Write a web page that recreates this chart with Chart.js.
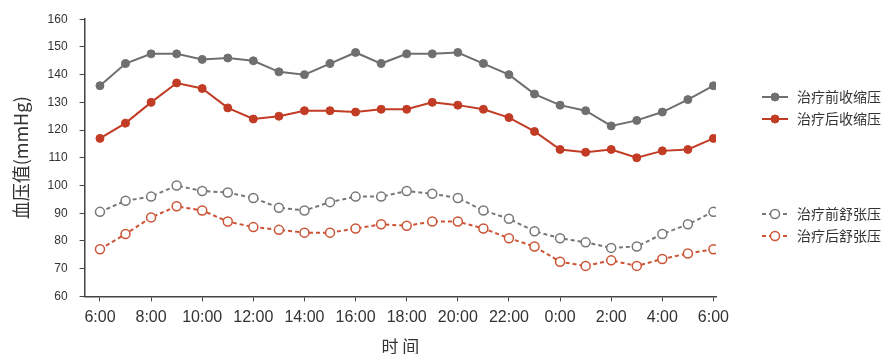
<!DOCTYPE html>
<html>
<head>
<meta charset="utf-8">
<script src="https://cdn.jsdelivr.net/npm/chart.js@4"></script>
<style>
  body { margin: 0; background: #fff; }
  #wrap { width: 886px; height: 354px; }
</style>
</head>
<body>
<div id="wrap"><canvas id="myChart" width="886" height="354"></canvas></div>
<script>
// hours, 6:00 to 6:00 next day
var times = ['6:00','7:00','8:00','9:00','10:00','11:00','12:00','13:00','14:00','15:00','16:00','17:00','18:00',
  '19:00','20:00','21:00','22:00','23:00','0:00','1:00','2:00','3:00','4:00','5:00','6:00'];
var sysBefore = [136,144,147.5,147.5,145.5,146,145,141,140,144,148,144,147.5,147.5,148,144,140,133,129,127,121.5,123.5,126.5,131,136];
var sysAfter  = [117,122.5,130,137,135,128,124,125,127,127,126.5,127.5,127.5,130,129,127.5,124.5,119.5,113,112,113,110,112.5,113,117];
var diaBefore = [90.5,94.5,96,100,98,97.5,95.5,92,91,94,96,96,98,97,95.5,91,88,83.5,81,79.5,77.5,78,82.5,86,90.5];
var diaAfter  = [77,82.5,88.5,92.5,91,87,85,84,83,83,84.5,86,85.5,87,87,84.5,81,78,72.5,71,73,71,73.5,75.5,77];
var yTicks = [60,70,80,90,100,110,120,130,140,150,160];

function pts(vals) {
  return vals.map(function (v, i) { return { x: i, y: v }; });
}

var legendPos = [97, 119, 214, 236];

var sideLegend = {
  id: 'sideLegend',
  afterDraw: function (chart) {
    var ctx = chart.ctx;
    chart.data.datasets.forEach(function (ds, i) {
      var y = legendPos[i];
      ctx.save();
      ctx.strokeStyle = ds.borderColor;
      ctx.lineWidth = 2;
      ctx.setLineDash(ds.borderDash || []);
      ctx.beginPath();
      ctx.moveTo(762, y);
      ctx.lineTo(788, y);
      ctx.stroke();
      ctx.setLineDash([]);
      ctx.beginPath();
      ctx.arc(775, y, ds.pointRadius, 0, Math.PI * 2);
      ctx.fillStyle = ds.pointBackgroundColor;
      ctx.fill();
      ctx.lineWidth = ds.pointBorderWidth;
      ctx.stroke();
      ctx.fillStyle = '#333';
      ctx.font = '14px "Noto Sans CJK SC"';
      ctx.textBaseline = 'middle';
      ctx.fillText(ds.label, 797, y);
      ctx.restore();
    });
  }
};

var ctx = document.getElementById('myChart');
var myChart = new Chart(ctx, {
  type: 'line',
  data: {
    datasets: [
      { label: '治疗前收缩压', data: pts(sysBefore), borderColor: '#6f6f6f', backgroundColor: '#6f6f6f',
        pointBackgroundColor: '#6f6f6f', pointRadius: 4, pointBorderWidth: 1, borderWidth: 2 },
      { label: '治疗后收缩压', data: pts(sysAfter), borderColor: '#c23b24', backgroundColor: '#c23b24',
        pointBackgroundColor: '#c23b24', pointRadius: 4, pointBorderWidth: 1, borderWidth: 2 },
      { label: '治疗前舒张压', data: pts(diaBefore), borderColor: '#777777', backgroundColor: '#fff',
        pointBackgroundColor: '#fff', pointRadius: 4.5, pointBorderWidth: 1.5, borderWidth: 2, borderDash: [4, 3] },
      { label: '治疗后舒张压', data: pts(diaAfter), borderColor: '#cc5335', backgroundColor: '#fff',
        pointBackgroundColor: '#fff', pointRadius: 4.5, pointBorderWidth: 1.5, borderWidth: 2, borderDash: [4, 3] }
    ]
  },
  options: {
    responsive: false,
    animation: false,
    layout: { padding: { top: 17, right: 170, left: 10, bottom: -3 } },
    plugins: { legend: { display: false }, tooltip: { enabled: false } },
    scales: {
      x: {
        type: 'linear',
        min: -0.6,
        max: 24.1,
        afterBuildTicks: function (axis) {
          axis.ticks = times.map(function (t, i) { return { value: i }; }).filter(function (t) { return t.value % 2 == 0; });
        },
        ticks: {
          color: '#333',
          font: { size: 16, family: 'Liberation Sans' },
          padding: 7,
          maxRotation: 0,
          autoSkip: false,
          callback: function (v) { return times[v]; }
        },
        grid: { drawOnChartArea: false, tickLength: 5, color: '#444', lineWidth: 1 },
        border: { color: '#444', width: 1.5 },
        title: { display: true, text: '时 间', color: '#333', font: { size: 17, family: 'Noto Sans CJK SC' }, padding: { top: 2, bottom: 0 } }
      },
      y: {
        min: 60,
        max: 160,
        afterBuildTicks: function (axis) {
          axis.ticks = yTicks.map(function (v) { return { value: v }; });
        },
        ticks: { color: '#333', font: { size: 12, family: 'Liberation Sans' }, padding: 12 },
        grid: { drawOnChartArea: false, tickLength: 5, color: '#444', lineWidth: 1 },
        border: { color: '#444', width: 1.5 },
        title: { display: true, text: '血压值(mmHg)', color: '#333', font: { size: 18, family: 'Noto Sans CJK SC' }, padding: { top: 0, bottom: 4 } }
      }
    }
  },
  plugins: [sideLegend]
});
</script>
</body>
</html>
